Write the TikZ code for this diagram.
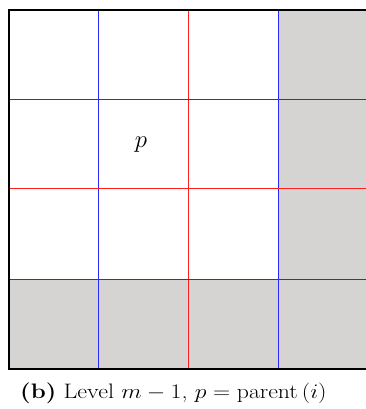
\documentclass[tikz,border=0pt]{standalone}
\begin{document}
\begin{tikzpicture}[x=1bp,y=-1bp]
\definecolor{cellgray}{RGB}{214,212,210}
\tikzset{
  blueline/.style={draw={rgb,255:red,40;green,40;blue,255}, line width=1.3bp},
  redline/.style={draw={rgb,255:red,255;green,30;blue,30}, line width=1.3bp},
  frame/.style={draw=black, line width=2bp},
  lbl/.style={inner sep=0pt, font=\fontsize{21}{25}\selectfont},
  plbl/.style={inner sep=0pt, font=\fontsize{27}{30}\selectfont}
}
\useasboundingbox (0,0) rectangle (366,409);
\begin{scope}
\clip (0,0) rectangle (366,409);
\fill[cellgray] (278,9) rectangle (368,369);
\fill[cellgray] (8,279) rectangle (368,369);
\draw[blueline] (98.5,9) -- (98.5,369);
\draw[redline] (188.5,9) -- (188.5,369);
\draw[blueline] (278.5,9) -- (278.5,369);
\draw[blueline] (8,99.5) -- (368,99.5);
\draw[redline] (8,188.5) -- (368,188.5);
\draw[blueline] (8,279.5) -- (368,279.5);
\draw[frame] (9,10) rectangle (370,369);
\end{scope}
\node[plbl] (p) at (141,144.5) {$p$};
\node[lbl, anchor=base west, xscale=1.15] (cap) at (20,398) {\textbf{(b)} Level $m-1$, $p=\mathrm{parent}\,(i)$};
\end{tikzpicture}
\end{document}
